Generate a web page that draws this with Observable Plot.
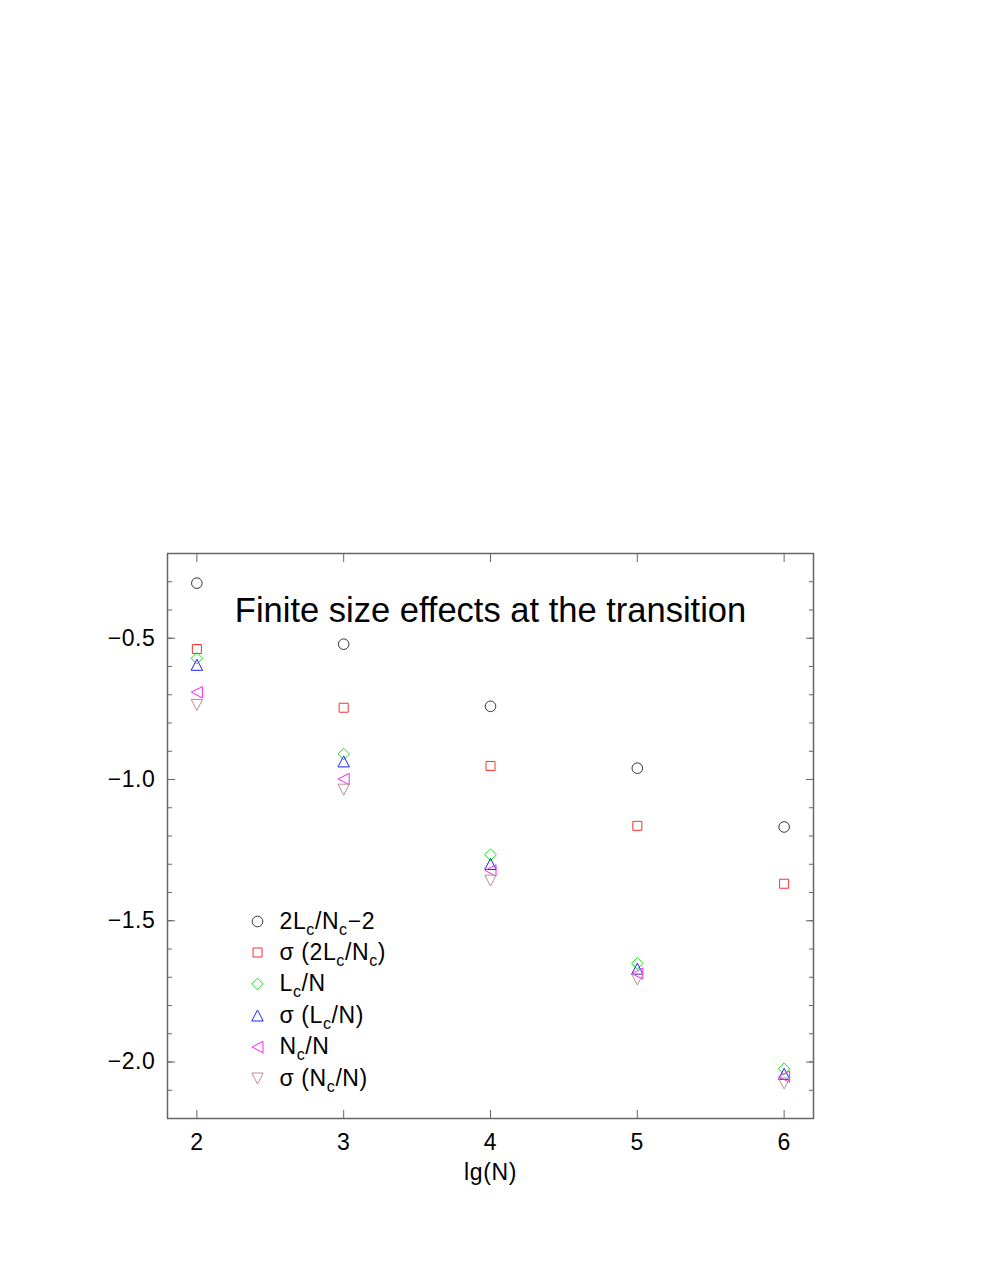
<!DOCTYPE html>
<html><head><meta charset="utf-8">
<script src="https://cdn.jsdelivr.net/npm/d3@7"></script>
<script src="https://cdn.jsdelivr.net/npm/@observablehq/plot@0.6"></script>
<style>body{margin:0;background:#fff;} svg text{letter-spacing:0.6px;}</style>
</head><body><div id="chart"></div>
<script>
// ---- data ----
const lgN = [2, 3, 4, 5, 6];
const seriesNames = ["2L_c/N_c\u22122", "\u03c3 (2L_c/N_c)", "L_c/N", "\u03c3 (L_c/N)", "N_c/N", "\u03c3 (N_c/N)"];
const ratio2LcNc = [-0.305, -0.521, -0.741, -0.960, -1.168];
const sigma2LcNc = [-0.538, -0.746, -0.952, -1.164, -1.369];
const LcN = [-0.571, -0.910, -1.266, -1.651, -2.024];
const sigmaLcN = [-0.594, -0.936, -1.299, -1.670, -2.042];
const NcN = [-0.691, -0.998, -1.322, -1.687, -2.052];
const sigmaNcN = [-0.736, -1.036, -1.358, -1.708, -2.076];
const xTicks = [2, 3, 4, 5, 6];
const yTicks = [-2.0, -1.5, -1.0, -0.5];
const yMinorTicks = [-2.1, -2.0, -1.9, -1.8, -1.7, -1.6, -1.5, -1.4, -1.3, -1.2, -1.1, -1.0, -0.9, -0.8, -0.7, -0.6, -0.5, -0.4, -0.3];
const title = "Finite size effects at the transition";
const xLabel = "lg(N)";

const seriesValues = [ratio2LcNc, sigma2LcNc, LcN, sigmaLcN, NcN, sigmaNcN];
const colors = ["#333333", "#ff3030", "#20e020", "#2020ff", "#ff20ff", "#bc8f8f"];

// ---- symbols ----
function sym(fn) { return {draw(c, size) { const r = Math.sqrt(size / Math.PI); fn(c, r / 5.5); }}; }
const symCircle = sym((c, s) => { const r = 5.3 * s; c.moveTo(r, 0); c.arc(0, 0, r, 0, 2 * Math.PI); });
const symSquare = sym((c, s) => { const h = 4.5 * s; c.moveTo(-h, -h); c.lineTo(h, -h); c.lineTo(h, h); c.lineTo(-h, h); c.closePath(); });
const symDiamond = sym((c, s) => { const h = 5.8 * s; c.moveTo(0, -h); c.lineTo(h, 0); c.lineTo(0, h); c.lineTo(-h, 0); c.closePath(); });
const symUp = sym((c, s) => { const w = 5.7 * s, h = 5.5 * s; c.moveTo(0, -h); c.lineTo(w, h); c.lineTo(-w, h); c.closePath(); });
const symLeft = sym((c, s) => { const w = 5.7 * s, h = 5.5 * s; c.moveTo(-h, 0); c.lineTo(h, -w); c.lineTo(h, w); c.closePath(); });
const symDown = sym((c, s) => { const w = 5.7 * s, h = 5.5 * s; c.moveTo(0, h); c.lineTo(w, -h); c.lineTo(-w, -h); c.closePath(); });
const symbols = [symCircle, symSquare, symDiamond, symUp, symLeft, symDown];

const marks = [];
seriesValues.forEach((vals, i) => {
  const rows = lgN.map((x, j) => ({x, y: vals[j]}));
  marks.push(Plot.dot(rows, {x: "x", y: "y", r: 5.5, symbol: symbols[i], stroke: colors[i], strokeWidth: 1, fill: "none"}));
});

// legend inside the frame
const legendDy = [-197, -166, -134.5, -103, -71.5, -40];
seriesNames.forEach((name, i) => {
  marks.push(Plot.dot([name], {x: null, y: null, frameAnchor: "bottom-left", dx: 90, dy: legendDy[i], r: 5.5, symbol: symbols[i], stroke: colors[i], strokeWidth: 1, fill: "none"}));
  marks.push(Plot.text([name], {x: null, y: null, text: d => d, frameAnchor: "bottom-left", lineAnchor: "middle", dx: 112, dy: legendDy[i], textAnchor: "start", fontSize: 23, fill: "#000"}));
});

const plot = Plot.plot({
  width: 981,
  height: 1230,
  marginLeft: 167,
  marginRight: 168,
  marginTop: 553,
  marginBottom: 112,
  style: {fontFamily: "'Liberation Sans', Arial, sans-serif", fontSize: "23px", background: "#fff"},
  x: {domain: [1.8, 6.2], label: null},
  y: {domain: [-2.2, -0.2], label: null},
  marks: [
    Plot.frame({stroke: "#666", strokeWidth: 1.5}),
    Plot.axisX({anchor: "bottom", ticks: xTicks, tickSize: -8, text: null, label: null, stroke: "#666"}),
    Plot.axisX({anchor: "top", ticks: xTicks, tickSize: -8, text: null, label: null, stroke: "#666"}),
    Plot.axisX({anchor: "bottom", ticks: xTicks, tickSize: 0, tickPadding: 15, tickFormat: d3.format("d"), fontSize: 23, label: null}),
    Plot.axisY({anchor: "left", ticks: yTicks, tickSize: -8, text: null, label: null, stroke: "#666"}),
    Plot.axisY({anchor: "right", ticks: yTicks, tickSize: -8, text: null, label: null, stroke: "#666"}),
    Plot.axisY({anchor: "left", ticks: yMinorTicks, tickSize: -5, text: null, label: null, stroke: "#666"}),
    Plot.axisY({anchor: "right", ticks: yMinorTicks, tickSize: -5, text: null, label: null, stroke: "#666"}),
    Plot.axisY({anchor: "left", ticks: yTicks, tickSize: 0, tickPadding: 12, tickFormat: d3.format(".1f"), fontSize: 23, label: null}),
    Plot.text([title], {x: null, y: null, text: d => d, frameAnchor: "top", lineAnchor: "middle", dy: 57, fontSize: 34.5, fill: "#000"}),
    Plot.text([xLabel], {x: null, y: null, text: d => d, frameAnchor: "bottom", lineAnchor: "middle", dy: 54, fontSize: 23, fill: "#000"}),
    ...marks
  ]
});

// subscripts in legend labels; no extra spacing on the title
const NS = "http://www.w3.org/2000/svg";
plot.querySelectorAll("text").forEach(t => {
  const s = t.textContent;
  if (s === title) { t.style.letterSpacing = "0px"; return; }
  if (!s.includes("_")) return;
  t.textContent = "";
  const parts = s.split(/_(.)/);
  parts.forEach((p, i) => {
    const ts = document.createElementNS(NS, "tspan");
    ts.textContent = p;
    if (i % 2) { ts.setAttribute("font-size", "16"); ts.setAttribute("dy", "6"); }
    else if (i > 0) { ts.setAttribute("dy", "-6"); }
    t.appendChild(ts);
  });
});

document.getElementById("chart").appendChild(plot);
</script>
</body></html>
